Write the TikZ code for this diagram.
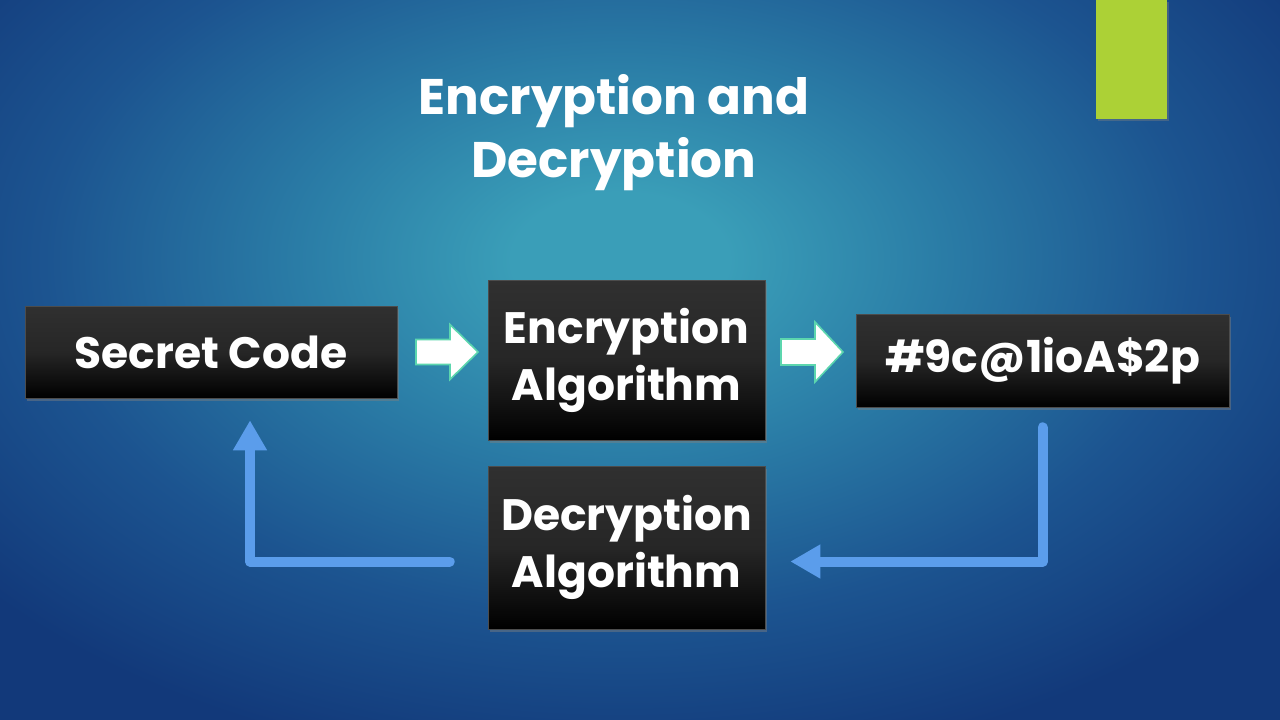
\documentclass[tikz,border=0pt]{standalone}
\usepackage{fontspec}
\setmainfont{Poppins}
\usetikzlibrary{arrows.meta,shadows,calc}
\definecolor{navy}{HTML}{12397A}
\definecolor{teal1}{HTML}{3A9EB8}
\definecolor{teal2}{HTML}{2A7CA6}
\definecolor{blue1}{HTML}{1C5490}
\definecolor{linkblue}{HTML}{5B9DEB}
\definecolor{mint}{HTML}{5CD6AE}
\definecolor{lime}{HTML}{ACD136}
\definecolor{boxtop}{HTML}{303030}
\pgfdeclareradialshading{bgshade}{\pgfpoint{0bp}{0bp}}{color(0bp)=(teal1); color(3bp)=(teal1); color(9bp)=(teal2); color(16bp)=(blue1); color(23bp)=(navy); color(25bp)=(navy); color(50bp)=(navy)}
\tikzset{
  blackbox/.style={rectangle, top color=boxtop, bottom color=black, middle color=black!85,
    draw=black!70, line width=0.6pt, text=white, font=\fontsize{44}{57}\selectfont\bfseries,
    align=center, inner sep=0pt, drop shadow={shadow xshift=2pt, shadow yshift=-3pt, opacity=0.45}},
  blockarrow/.style={fill=white, draw=mint, line width=1.6pt, line join=miter},
  link/.style={draw=linkblue, line width=10pt, line cap=round, line join=round,
    -{Triangle[length=30pt,width=32pt]}},
  titletext/.style={text=white, font=\fontsize{50}{63}\selectfont\bfseries, align=center}
}
\begin{document}
\begin{tikzpicture}[x=1pt,y=-1pt]
\useasboundingbox (0,0) rectangle (1280,720);
\fill[navy] (0,0) rectangle (1280,720);
\begin{scope}
\clip (0,0) rectangle (1280,720);
\shade[shading=bgshade] (620,260) ellipse [x radius=900, y radius=560];
\end{scope}
\fill[lime, drop shadow={shadow xshift=2pt, shadow yshift=-2pt, opacity=0.4}] (1096,0) rectangle (1167,119);

\node[titletext] (title) at (614,133) {Encryption and\\Decryption};

\node[blackbox, minimum width=372pt, minimum height=92pt] (sc) at (211,352) {Secret Code};
\node[blackbox, minimum width=277pt, minimum height=160pt] (ea) at (626.5,360) {Encryption\\Algorithm};
\node[blackbox, minimum width=373pt, minimum height=93pt] (code) at (1042.5,360.5) {\#9c@1ioA\$2p};
\node[blackbox, minimum width=277pt, minimum height=163pt] (da) at (626.5,547.5) {Decryption\\Algorithm};

% block arrows
\coordinate (a1) at ($(sc.east)!0.5!(ea.west)$);
\draw[blockarrow] ([xshift=-26.5pt,yshift=12.5pt]a1 |- sc.center) -- ++(34,0) -- ++(0,-15) -- ++(28,27.5) -- ++(-28,27.5) -- ++(0,-15) -- ++(-34,0) -- cycle;
\coordinate (a2) at ($(ea.east)!0.5!(code.west)$);
\draw[blockarrow] ([xshift=-29.5pt,yshift=13pt]a2 |- sc.center) -- ++(34,0) -- ++(0,-17) -- ++(28,30) -- ++(-28,30) -- ++(0,-17) -- ++(-34,0) -- cycle;

% blue connectors
\draw[link] ([yshift=-20pt]code.south) |- ([xshift=25pt,yshift=-14pt]da.east);
\coordinate (lb) at ([xshift=39pt]sc.south);
\draw[link] ([xshift=-38pt,yshift=-14pt]da.west) -| ([yshift=-22pt]lb);
\end{tikzpicture}
\end{document}
